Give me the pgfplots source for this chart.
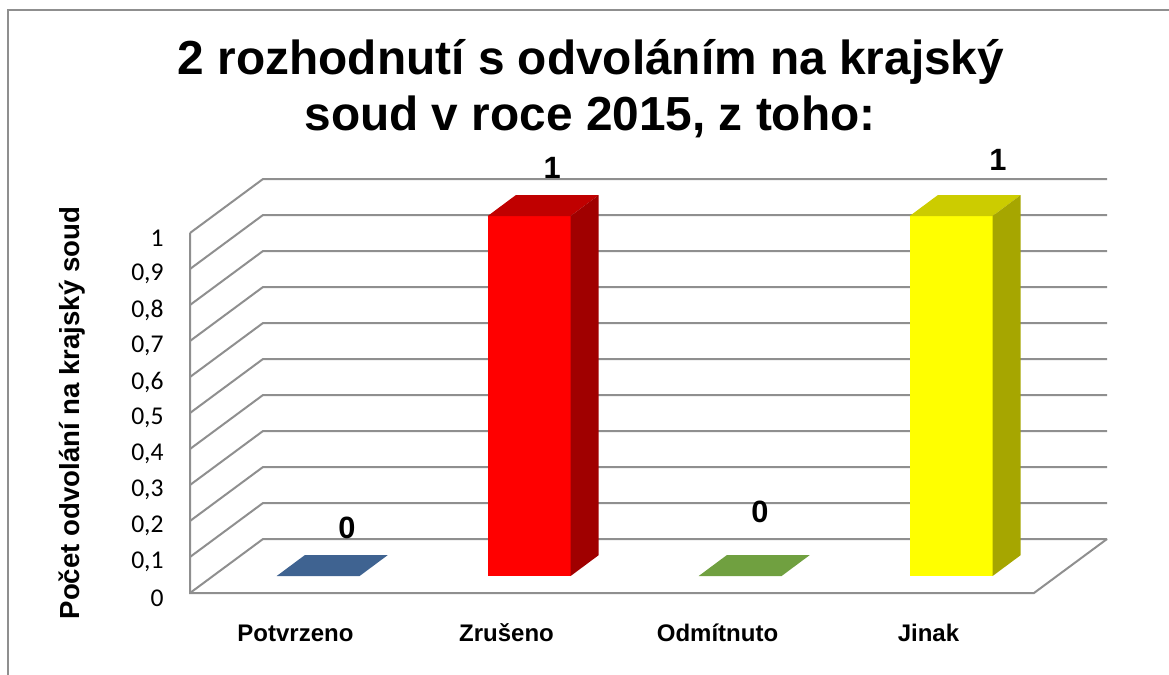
\documentclass[border=0pt]{standalone}
\usepackage{fontspec}
\setmainfont{Liberation Sans}
\newfontfamily\calibri{Carlito}
\usepackage{pgfplots}
\pgfplotsset{compat=1.18}
\definecolor{gridc}{HTML}{8F8F8F}
\definecolor{bblue}{HTML}{3F6391}
\definecolor{rfront}{HTML}{FF0000}
\definecolor{rtop}{HTML}{C00000}
\definecolor{rside}{HTML}{A00000}
\definecolor{bgreen}{HTML}{70A040}
\definecolor{yfront}{HTML}{FFFF00}
\definecolor{ytop}{HTML}{CCCC00}
\definecolor{yside}{HTML}{A6A600}
\begin{document}
\begin{tikzpicture}
\path[use as bounding box] (0,0) rectangle (584.5pt,-337.5pt);
\draw[color=gridc, line width=0.75pt] (4pt,-337.5pt) -- (4pt,-5pt) -- (584.5pt,-5pt);
\node[anchor=base, font=\bfseries\fontsize{23.9}{28}\selectfont] at (295.5pt,-37pt) {2 rozhodnutí s odvoláním na krajský};
\node[anchor=base, font=\bfseries\fontsize{23.9}{28}\selectfont] at (295pt,-65pt) {soud v roce 2015, z toho:};
\node[rotate=90, font=\bfseries\fontsize{13.8}{16}\selectfont] at (36pt,-206.5pt) {Počet odvolání na krajský soud};
\begin{axis}[
  at={(95pt,-296.5pt)}, anchor=south west,
  scale only axis, width=458.5pt, height=207pt,
  xmin=0, xmax=4.346, ymin=0, ymax=1.15,
  enlargelimits=false, clip=false,
  axis line style={draw=none}, tick style={draw=none},
  major tick length=0pt,
  xticklabel pos=lower, yticklabel pos=left,
  xtick={0.5,1.5,2.5,3.5},
  xticklabels={Potvrzeno,Zrušeno,Odmítnuto,Jinak},
  xticklabel style={anchor=base, yshift=-24pt, font=\bfseries\fontsize{12}{14}\selectfont},
  ytick={0,0.1,0.2,0.3,0.4,0.5,0.6,0.7,0.8,0.9,1},
  yticklabel style={anchor=east, inner sep=0pt, xshift=-13pt, yshift=-2.5pt, font=\calibri\fontsize{12.8}{15}\selectfont},
  /pgf/number format/assume math mode=true,
  /pgf/number format/use comma,
]
% gridlines: side wall + back wall
\addplot[gridc, line width=1pt] coordinates {(0,0) (0.346,0.15) (4.346,0.15)};
\addplot[gridc, line width=1pt] coordinates {(0,0.1) (0.346,0.25) (4.346,0.25)};
\addplot[gridc, line width=1pt] coordinates {(0,0.2) (0.346,0.35) (4.346,0.35)};
\addplot[gridc, line width=1pt] coordinates {(0,0.3) (0.346,0.45) (4.346,0.45)};
\addplot[gridc, line width=1pt] coordinates {(0,0.4) (0.346,0.55) (4.346,0.55)};
\addplot[gridc, line width=1pt] coordinates {(0,0.5) (0.346,0.65) (4.346,0.65)};
\addplot[gridc, line width=1pt] coordinates {(0,0.6) (0.346,0.75) (4.346,0.75)};
\addplot[gridc, line width=1pt] coordinates {(0,0.7) (0.346,0.85) (4.346,0.85)};
\addplot[gridc, line width=1pt] coordinates {(0,0.8) (0.346,0.95) (4.346,0.95)};
\addplot[gridc, line width=1pt] coordinates {(0,0.9) (0.346,1.05) (4.346,1.05)};
\addplot[gridc, line width=1pt] coordinates {(0,1) (0.346,1.15) (4.346,1.15)};
% front vertical edge and floor
\addplot[gridc, line width=1pt] coordinates {(0,1) (0,0) (4.0,0) (4.346,0.15)};
% Potvrzeno = 0
\addplot[draw=none, fill=bblue] coordinates {(0.4105,0.047) (0.8035,0.047) (0.9365,0.105) (0.5435,0.105)} -- cycle;
% Zrušeno = 1
\addplot[draw=none, fill=rfront] coordinates {(1.4105,0.047) (1.8035,0.047) (1.8035,1.047) (1.4105,1.047)} -- cycle;
\addplot[draw=none, fill=rtop] coordinates {(1.4105,1.047) (1.8035,1.047) (1.9365,1.105) (1.5435,1.105)} -- cycle;
\addplot[draw=none, fill=rside] coordinates {(1.8035,0.047) (1.9365,0.105) (1.9365,1.105) (1.8035,1.047)} -- cycle;
% Odmítnuto = 0
\addplot[draw=none, fill=bgreen] coordinates {(2.4105,0.047) (2.8035,0.047) (2.9365,0.105) (2.5435,0.105)} -- cycle;
% Jinak = 1
\addplot[draw=none, fill=yfront] coordinates {(3.4105,0.047) (3.8035,0.047) (3.8035,1.047) (3.4105,1.047)} -- cycle;
\addplot[draw=none, fill=ytop] coordinates {(3.4105,1.047) (3.8035,1.047) (3.9365,1.105) (3.5435,1.105)} -- cycle;
\addplot[draw=none, fill=yside] coordinates {(3.8035,0.047) (3.9365,0.105) (3.9365,1.105) (3.8035,1.047)} -- cycle;
% data labels
\node[font=\bfseries\fontsize{15.4}{18}\selectfont] at (axis cs:0.744,0.181) {0};
\node[font=\bfseries\fontsize{15.4}{18}\selectfont] at (axis cs:1.716,1.181) {1};
\node[font=\bfseries\fontsize{15.4}{18}\selectfont] at (axis cs:2.701,0.225) {0};
\node[font=\bfseries\fontsize{15.4}{18}\selectfont] at (axis cs:3.829,1.203) {1};
\end{axis}
\end{tikzpicture}
\end{document}
